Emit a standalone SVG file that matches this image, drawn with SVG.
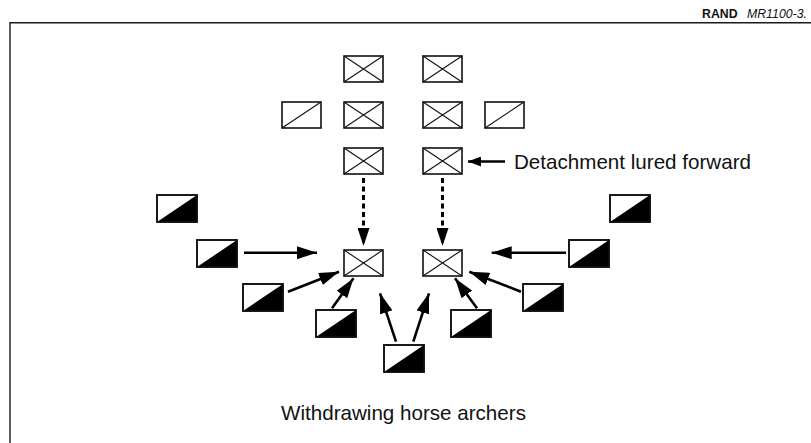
<svg xmlns="http://www.w3.org/2000/svg" width="811" height="443" viewBox="0 0 811 443">
  <style>
    .frame { fill: none; stroke: #1a1a1a; stroke-width: 1.4; }
    .unit { fill: #fff; stroke: #111; stroke-width: 1.6; }
    .cross { stroke: #111; stroke-width: 1.1; fill: none; }
    .half { fill: #000; }
    .move { stroke: #000; stroke-width: 2.6; fill: none; }
    .lure { stroke: #000; stroke-width: 3; fill: none; stroke-dasharray: 5 3.5; }
    .label { font-family: "Liberation Sans", Arial, sans-serif; font-size: 20.6px; fill: #111; }
    .hdr { font-family: "Liberation Sans", Arial, sans-serif; font-size: 12.3px; fill: #111; }
  </style>
  <defs>
    <!-- heavy cavalry unit: rectangle with both diagonals -->
    <g id="heavy">
      <rect class="unit" x="0" y="0" width="39" height="26"/>
      <path class="cross" d="M0,0 L39,26 M0,26 L39,0"/>
    </g>
    <!-- light unit: rectangle with one diagonal -->
    <g id="light">
      <rect class="unit" x="0" y="0" width="39" height="26"/>
      <path class="cross" d="M0,26 L39,0"/>
    </g>
    <!-- horse archer unit: lower-right half filled -->
    <g id="archer">
      <rect class="unit" x="0" y="0" width="40" height="27"/>
      <path class="half" d="M0,27 L40,0 L40,27 Z"/>
      <rect x="0" y="0" width="40" height="27" fill="none" stroke="#111" stroke-width="1.6"/>
    </g>
    <marker id="head" markerUnits="userSpaceOnUse" markerWidth="21" markerHeight="13" refX="20" refY="6.5" orient="auto">
      <path d="M0,0 L20,6.5 L0,13 Z" fill="#000"/>
    </marker>
    <marker id="headDash" markerUnits="userSpaceOnUse" markerWidth="19" markerHeight="12" refX="18" refY="6" orient="auto">
      <path d="M0,0 L18,6 L0,12 Z" fill="#000"/>
    </marker>
    <marker id="headSmall" markerUnits="userSpaceOnUse" markerWidth="14" markerHeight="10" refX="13" refY="5" orient="auto">
      <path d="M0,0 L13,5 L0,10 Z" fill="#000"/>
    </marker>
  </defs>

  <!-- page frame and header -->
  <path class="frame" d="M10,443 L10,22.7 L811,22.7"/>
  <text class="hdr" x="702" y="17.5" font-weight="bold">RAND</text>
  <text class="hdr" x="747" y="17.5" font-style="italic">MR1100-3.</text>

  <!-- heavy column -->
  <g id="heavy-r1-left"><use href="#heavy" x="344" y="56"/></g>
  <g id="heavy-r1-right"><use href="#heavy" x="423" y="56"/></g>
  <g id="light-r2-left"><use href="#light" x="282" y="102"/></g>
  <g id="heavy-r2-left"><use href="#heavy" x="344" y="102"/></g>
  <g id="heavy-r2-right"><use href="#heavy" x="423" y="102"/></g>
  <g id="light-r2-right"><use href="#light" x="485" y="102"/></g>
  <g id="heavy-r3-left"><use href="#heavy" x="344" y="148"/></g>
  <g id="heavy-r3-right"><use href="#heavy" x="423" y="148"/></g>
  <g id="detached-left"><use href="#heavy" x="344" y="250"/></g>
  <g id="detached-right"><use href="#heavy" x="423" y="250"/></g>

  <!-- horse archers -->
  <g id="archer-l1"><use href="#archer" x="157" y="195"/></g>
  <g id="archer-l2"><use href="#archer" x="197" y="240"/></g>
  <g id="archer-l3"><use href="#archer" x="243" y="284"/></g>
  <g id="archer-l4"><use href="#archer" x="316" y="310"/></g>
  <g id="archer-c"><use href="#archer" x="384" y="345"/></g>
  <g id="archer-r4"><use href="#archer" x="451" y="310"/></g>
  <g id="archer-r3"><use href="#archer" x="523" y="284"/></g>
  <g id="archer-r2"><use href="#archer" x="569" y="240"/></g>
  <g id="archer-r1"><use href="#archer" x="610" y="195"/></g>

  <!-- movements -->
  <g id="connectors">
    <line class="lure" x1="363.5" y1="178" x2="363.5" y2="246" marker-end="url(#headDash)"/>
    <line class="lure" x1="442.5" y1="178" x2="442.5" y2="246" marker-end="url(#headDash)"/>
    <line class="move" x1="244" y1="252.7" x2="317" y2="252.7" marker-end="url(#head)"/>
    <line class="move" x1="288" y1="291.7" x2="339" y2="271.7" marker-end="url(#head)"/>
    <line class="move" x1="332" y1="308.3" x2="353.5" y2="278.3" marker-end="url(#head)"/>
    <line class="move" x1="396" y1="341.7" x2="380" y2="293.3" marker-end="url(#head)"/>
    <line class="move" x1="413.3" y1="341.7" x2="429" y2="293.3" marker-end="url(#head)"/>
    <line class="move" x1="477" y1="308.3" x2="455" y2="278.3" marker-end="url(#head)"/>
    <line class="move" x1="521" y1="291.7" x2="469.3" y2="271.7" marker-end="url(#head)"/>
    <line class="move" x1="566" y1="252.7" x2="491.7" y2="252.7" marker-end="url(#head)"/>
    <line class="move" x1="505" y1="161.5" x2="468" y2="161.5" stroke-width="2" marker-end="url(#headSmall)"/>
  </g>

  <text class="label" x="514" y="169">Detachment lured forward</text>
  <text class="label" x="281" y="420">Withdrawing horse archers</text>
</svg>
